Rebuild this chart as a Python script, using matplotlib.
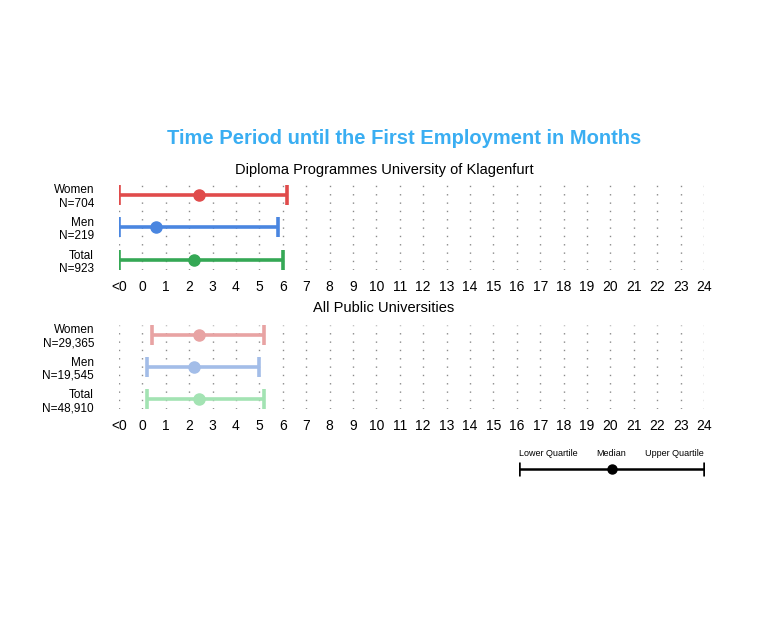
import matplotlib
matplotlib.use("Agg")
import matplotlib.pyplot as plt

plt.rcParams['font.family'] = ['Liberation Sans', 'DejaVu Sans']

title = "Time Period until the First Employment in Months"
panel_titles = ["Diploma Programmes University of Klagenfurt", "All Public Universities"]
row_labels = [
    ["Women\nN=704", "Men\nN=219", "Total\nN=923"],
    ["Women\nN=29,365", "Men\nN=19,545", "Total\nN=48,910"],
]
# value -1 denotes "<0"
lower_q = [[-1, -1, -1], [0.4, 0.2, 0.2]]
median = [[2.4, 0.6, 2.2], [2.4, 2.2, 2.4]]
upper_q = [[6.2, 5.8, 6.0], [5.2, 5.0, 5.2]]
colors = [["#e04b4b", "#4a86e0", "#35a855"], ["#e8a3a3", "#a3bde8", "#a3e3b3"]]
tick_values = list(range(-1, 25))
tick_labels = ["<0"] + [str(i) for i in range(0, 25)]

W, H = 768, 621
fig = plt.figure(figsize=(W / 100, H / 100), dpi=100)

def px_axes(x0, y_top, x1, y_bot):
    return fig.add_axes([x0 / W, 1 - y_bot / H, (x1 - x0) / W, (y_bot - y_top) / H])

fig.text(404 / W, 1 - 139 / H, title, ha='center', va='center', fontsize=14.5,
         fontweight='bold', color='#3aaef2')

panels = [(185, 270, 170), (325, 409, 308)]
for p, (yt, yb, ty) in enumerate(panels):
    ax = px_axes(119, yt, 704, yb)
    ax.set_xlim(-1, 24)
    ax.set_ylim(2.3, -0.3)
    for t in tick_values:
        ax.axvline(t, color='#8a8a8a', linestyle=(0, (1, 5)), linewidth=1.0, zorder=0)
    for i in range(3):
        c = colors[p][i]
        ax.hlines(i, lower_q[p][i], upper_q[p][i], color=c, linewidth=2.6, zorder=2)
        ax.plot([lower_q[p][i], upper_q[p][i]], [i, i], linestyle='none', marker='|',
                markersize=14, markeredgewidth=2.6, color=c, zorder=2)
        ax.plot([median[p][i]], [i], marker='o', markersize=8, color=c, zorder=3)
    ax.set_yticks([0, 1, 2])
    ax.set_yticklabels(row_labels[p], fontsize=8.5, linespacing=1.15)
    ax.set_xticks(tick_values)
    ax.set_xticklabels(tick_labels, fontsize=10)
    ax.tick_params(length=0, pad=7)
    ax.tick_params(axis='y', pad=18)
    for s in ax.spines.values():
        s.set_visible(False)
    fig.text(384 / W, 1 - ty / H, panel_titles[p], ha='center', va='center', fontsize=10.5)

# legend explanation
lax = px_axes(519, 445, 704, 480)
lax.set_xlim(0, 1)
lax.set_ylim(1, 0)
lax.axis('off')
ly = 24 / 35
lax.hlines(ly, 0, 1, color='black', linewidth=1.8)
lax.plot([0, 1], [ly, ly], linestyle='none', marker='|', markersize=10, markeredgewidth=1.8, color='black')
lax.plot([0.5], [ly], marker='o', markersize=6.5, color='black')
lax.text(0, 8 / 35, "Lower Quartile", ha='left', va='center', fontsize=6.5)
lax.text(0.5, 8 / 35, "Median", ha='center', va='center', fontsize=6.5)
lax.text(1, 8 / 35, "Upper Quartile", ha='right', va='center', fontsize=6.5)

fig.savefig("out.png", dpi=100)
